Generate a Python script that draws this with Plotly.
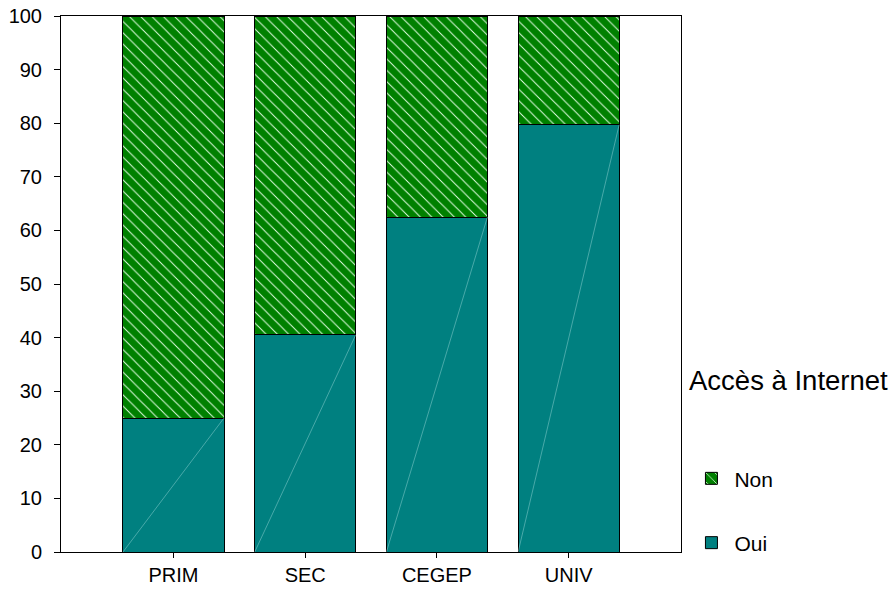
import plotly.graph_objects as go

categories = ["PRIM", "SEC", "CEGEP", "UNIV"]
oui = [25.0, 40.5, 62.5, 79.7]
non = [100 - v for v in oui]
y_ticks = [0, 10, 20, 30, 40, 50, 60, 70, 80, 90, 100]
legend_title = "Accès à Internet"

TEAL = "#008080"
GREEN = "#008000"
FONT = "Liberation Sans, Arial, sans-serif"
xpos = list(range(len(categories)))
BW = 0.767

fig = go.Figure()
fig.add_trace(go.Bar(
    x=xpos, y=oui, name="Oui", width=BW,
    marker=dict(color=TEAL, line=dict(color="#000000", width=1)),
    legendgroup="oui", legendrank=2,
))
fig.add_trace(go.Bar(
    x=xpos, y=non, name="Non", width=BW,
    marker=dict(color=GREEN, line=dict(color="#000000", width=1),
                pattern=dict(shape="\\", fgcolor="#e6ffe6", bgcolor=GREEN,
                             size=8, solidity=0.12, fillmode="replace")),
    legendgroup="non", legendrank=1,
))
# faint diagonal artefact inside each "Oui" segment
for i, v in zip(xpos, oui):
    fig.add_trace(go.Scatter(
        x=[i - BW / 2, i + BW / 2], y=[0, v], mode="lines",
        line=dict(color="rgba(180,230,230,0.5)", width=0.8),
        showlegend=False, hoverinfo="skip",
    ))

fig.update_layout(
    barmode="stack",
    width=895, height=590,
    margin=dict(l=61, r=214, t=16, b=38, autoexpand=False),
    paper_bgcolor="white", plot_bgcolor="white",
    font=dict(family=FONT, size=20, color="#000000"),
    showlegend=True,
    legend=dict(
        x=1.012, xanchor="left", y=0.175, yanchor="top",
        font=dict(size=21), tracegroupgap=34,
        bgcolor="rgba(0,0,0,0)", itemwidth=36,
    ),
    annotations=[dict(
        text=legend_title, xref="paper", yref="paper",
        x=1.01, xanchor="left", y=0.32, yanchor="middle",
        showarrow=False, font=dict(size=27.5, family=FONT),
    )],
)
fig.update_xaxes(
    range=[-0.854, 3.853], tickmode="array", tickvals=xpos, ticktext=categories,
    showline=True, linecolor="#000000", linewidth=1, mirror=True,
    ticks="outside", ticklen=5, tickcolor="#000000", showgrid=False, zeroline=False,
    automargin=False,
)
fig.update_yaxes(
    range=[0, 100], tickmode="array", tickvals=y_ticks,
    showline=True, linecolor="#000000", linewidth=1, mirror=True,
    ticks="outside", ticklen=6, tickcolor="#000000", showgrid=False, zeroline=False,
    ticklabelstandoff=8, automargin=False,
)

fig.write_html(
    "out.html",
    config={"displayModeBar": False},
    post_script="document.body.style.margin='0';document.body.style.overflow='hidden';",
)
